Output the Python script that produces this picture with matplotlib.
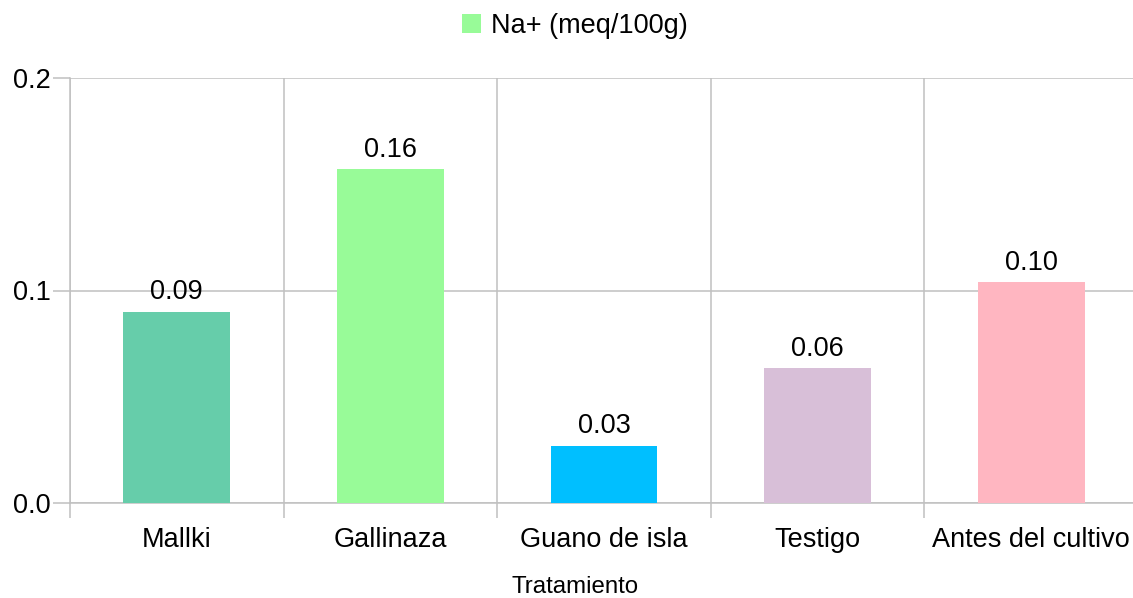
import matplotlib.pyplot as plt
import numpy as np
from matplotlib.patches import Patch

plt.rcParams['font.family'] = ['Liberation Sans', 'DejaVu Sans']

# data
categories = ['Mallki', 'Gallinaza', 'Guano de isla', 'Testigo', 'Antes del cultivo']
na_values = [0.090, 0.157, 0.027, 0.0635, 0.104]
bar_colors = ['#66CDAA', '#98FB98', '#00BFFF', '#D8BFD8', '#FFB6C1']
yticks = [0.0, 0.1, 0.2]

W, H = 1133, 598
fig = plt.figure(figsize=(W / 100, H / 100), dpi=100)
ax = fig.add_axes([70 / W, 1 - 503 / H, (1138 - 70) / W, 425 / H])

x = np.arange(len(categories))
ax.bar(x, na_values, width=0.5, color=bar_colors, zorder=3)

for xi, v in zip(x, na_values):
    ax.text(xi, v + 0.003, f'{v:.2f}', ha='center', va='bottom', fontsize=19.5, color='#000000')

ax.set_xlim(-0.5, len(categories) - 0.5)
ax.set_ylim(0, 0.2)
ax.set_yticks(yticks)
ax.set_yticklabels([f'{t:.1f}' for t in yticks])
ax.set_xticks(x)
ax.set_xticklabels(categories)
ax.set_xticks(np.arange(len(categories) + 1) - 0.5, minor=True)

grid_c = '#c0c0c0'
ax.grid(axis='y', which='major', color=grid_c, linewidth=1.1, zorder=0)
ax.grid(axis='x', which='minor', color=grid_c, linewidth=1.1, zorder=0)
ax.tick_params(axis='x', which='major', length=0, labelsize=19.5, pad=17)
ax.tick_params(axis='x', which='minor', length=11, color=grid_c, width=1.1)
ax.tick_params(axis='y', which='major', length=12, color=grid_c, width=1.1, labelsize=19.5, pad=2)
for s in ['top', 'right']:
    ax.spines[s].set_visible(False)
for s in ['left', 'bottom']:
    ax.spines[s].set_color(grid_c)
    ax.spines[s].set_linewidth(1.1)

fig.text(575 / W, 1 - 587 / H, 'Tratamiento', ha='center', va='center', fontsize=17.3)

handle = Patch(facecolor='#98FB98', edgecolor='none')
fig.legend([handle], ['Na+ (meq/100g)'], loc='center', bbox_to_anchor=(575 / W, 1 - 26 / H),
           frameon=False, fontsize=19.5, handlelength=0.7, handleheight=0.7, handletextpad=0.35)

fig.savefig('out.png', dpi=100)
